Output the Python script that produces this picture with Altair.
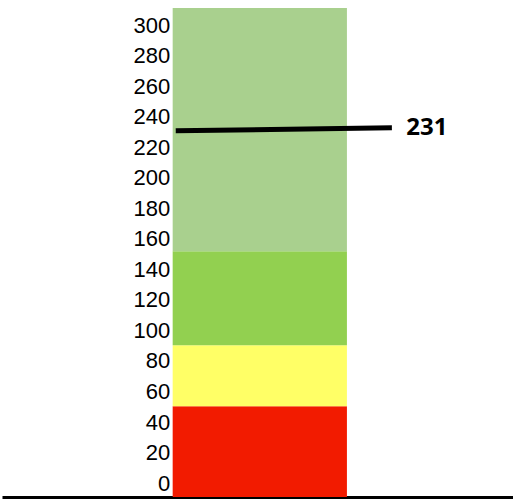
import altair as alt
import pandas as pd

# Band data
band_names = ["Red", "Yellow", "Green", "Light green"]
band_low = [-8.5, 51, 91, 152.5]
band_high = [51, 91, 152.5, 312]
band_colors = ["#F21B00", "#FFFF66", "#92D050", "#A9D08E"]
bar_x_start = [33.4]
bar_x_end = [67.5]

# Marker line
marker_value = 231
marker_y_start = [231.5]
marker_y_end = [233.5]
marker_x_start = [34.0]
marker_x_end = [76.3]
label_x = [79.1]

y_ticks = list(range(0, 301, 20))
y_domain = [-8.5, 312]
x_domain = [0, 100]

bands = pd.DataFrame({
    "name": band_names,
    "low": band_low,
    "high": band_high,
    "x0": bar_x_start * len(band_names),
    "x1": bar_x_end * len(band_names),
})

line_df = pd.DataFrame({
    "x0": marker_x_start, "x1": marker_x_end,
    "y0": marker_y_start, "y1": marker_y_end,
})
label_df = pd.DataFrame({"x": label_x, "y": [marker_y_end[0]], "t": [str(marker_value)]})

yscale = alt.Scale(domain=y_domain, nice=False, zero=False)
xscale = alt.Scale(domain=x_domain, nice=False, zero=False)

xaxis = alt.Axis(title=None, labels=False, ticks=False, grid=False,
                 domain=True, domainColor="black", domainWidth=3)
yaxis = alt.Axis(title=None, values=y_ticks, ticks=False, grid=False,
                 domain=False, labelFontSize=22, labelFont="Liberation Sans",
                 labelColor="black", labelPadding=3, offset=-170.7,
                 labelOverlap=False, labelBound=False, labelOffset=-1)

bars = alt.Chart(bands).mark_rect().encode(
    x=alt.X("x0:Q", scale=xscale, axis=xaxis),
    x2="x1:Q",
    y=alt.Y("low:Q", scale=yscale, axis=yaxis),
    y2="high:Q",
    color=alt.Color("name:N", scale=alt.Scale(domain=band_names, range=band_colors), legend=None),
)

line = alt.Chart(line_df).mark_rule(color="black", strokeWidth=5).encode(
    x=alt.X("x0:Q", scale=xscale, axis=xaxis), x2="x1:Q",
    y=alt.Y("y0:Q", scale=yscale, axis=yaxis), y2="y1:Q",
)

text = alt.Chart(label_df).mark_text(
    align="left", baseline="middle", font="Open Sans", fontWeight="bold",
    fontSize=24, color="black",
).encode(
    x=alt.X("x:Q", scale=xscale, axis=xaxis), y=alt.Y("y:Q", scale=yscale, axis=yaxis), text="t:N",
)

chart = alt.layer(bars, line, text).properties(
    width=511, height=489,
    padding={"left": 2, "top": 8, "right": 0, "bottom": 2},
    autosize=alt.AutoSizeParams(type="none"),
).configure(background="white", view=alt.ViewConfig(stroke=None))

chart.save("out.html", embed_options={"renderer": "svg", "actions": False})
